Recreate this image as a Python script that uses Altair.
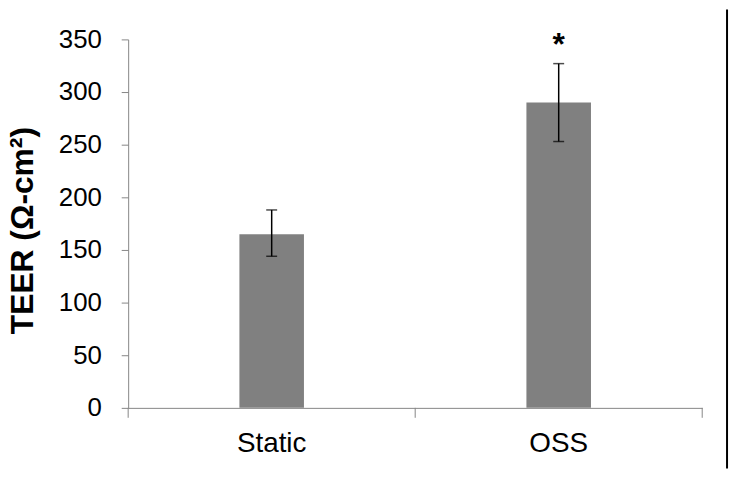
import altair as alt
import pandas as pd

categories = ["Static", "OSS"]
means = [165, 290]
err_low = [144, 253]
err_high = [188, 327]
sig = ["", "*"]

df = pd.DataFrame({
    "cat": categories,
    "mean": means,
    "lo": err_low,
    "hi": err_high,
    "sig": sig,
})

W, H = 578, 371
GREY = "#868686"
FONT = "Liberation Sans"

x_enc = alt.X(
    "cat:N",
    sort=categories,
    title=None,
    scale=alt.Scale(paddingInner=0, paddingOuter=0),
    axis=alt.Axis(
        labelFontSize=28,
        labelColor="black",
        labelFont=FONT,
        labelAngle=0,
        ticks=False,
        tickSize=0,
        labelPadding=44,
        labelBaseline="alphabetic",
        domainColor=GREY,
        domainWidth=1,
    ),
)

y_scale = alt.Scale(domain=[0, 350], nice=False, zero=True)

base = alt.Chart(df)

bars = base.mark_bar(size=65, color="#808080").encode(
    x=x_enc,
    y=alt.Y(
        "mean:Q",
        scale=y_scale,
        title="TEER (Ω-cm²)",
        axis=alt.Axis(
            values=[0, 50, 100, 150, 200, 250, 300, 350],
            grid=False,
            labelFontSize=26,
            labelColor="black",
            labelFont=FONT,
            labelPadding=20,
            tickSize=7,
            tickColor=GREY,
            domainColor=GREY,
            titleFont=FONT,
            titleFontSize=32,
            titleFontWeight="bold",
            titleColor="black",
            titleAngle=270,
            titleX=-96,
            titleY=192,
            titleAlign="center",
            titleBaseline="alphabetic",
        ),
    ),
)

err = base.mark_rule(color="black", strokeWidth=1.5).encode(
    x=alt.X("cat:N", sort=categories),
    y=alt.Y("lo:Q", scale=y_scale),
    y2="hi:Q",
)

cap_lo = base.mark_tick(color="black", size=11, thickness=1.5, orient="horizontal").encode(
    x=alt.X("cat:N", sort=categories),
    y=alt.Y("lo:Q", scale=y_scale),
)
cap_hi = base.mark_tick(color="black", size=11, thickness=1.5, orient="horizontal").encode(
    x=alt.X("cat:N", sort=categories),
    y=alt.Y("hi:Q", scale=y_scale),
)

star = base.mark_text(
    fontSize=32, fontWeight="bold", font=FONT, color="black",
    baseline="alphabetic", dy=-9,
).encode(
    x=alt.X("cat:N", sort=categories),
    y=alt.Y("hi:Q", scale=y_scale),
    text="sig:N",
)

sep = base.mark_rule(color=GREY, strokeWidth=1).encode(
    x=alt.X("cat:N", sort=categories, bandPosition=0),
    y=alt.value(H),
    y2=alt.value(H + 10),
)
sep_end = base.transform_filter(alt.datum.cat == categories[-1]).mark_rule(
    color=GREY, strokeWidth=1
).encode(
    x=alt.X("cat:N", sort=categories, bandPosition=1),
    y=alt.value(H),
    y2=alt.value(H + 10),
)

border = alt.Chart(pd.DataFrame({"k": [0]})).mark_rule(color="black", strokeWidth=2).encode(
    x=alt.value(603),
    y=alt.value(-30),
    y2=alt.value(432),
)

chart = alt.layer(bars, err, cap_lo, cap_hi, star, sep, sep_end, border).properties(
    width=W,
    height=H,
    padding={"left": 121, "top": 30, "right": 30, "bottom": 70},
    autosize=alt.AutoSizeParams(type="none"),
    background="white",
).configure_view(stroke=None)

chart.save("out.html", embed_options={"renderer": "svg", "actions": False})
